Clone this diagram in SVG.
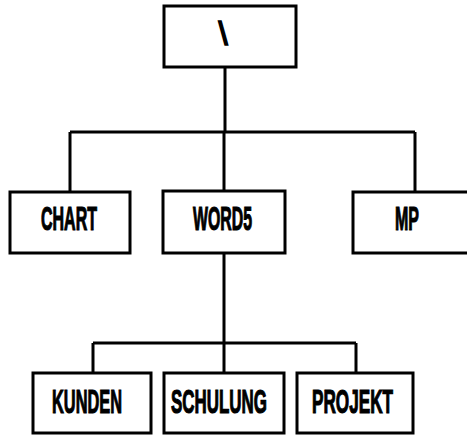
<svg xmlns="http://www.w3.org/2000/svg" width="467" height="435" viewBox="0 0 467 435">
<style>
.box{fill:#fff;stroke:#000;stroke-width:3}
.lbl{font-family:"Liberation Sans",Arial,sans-serif;font-weight:bold;font-size:33px;fill:#000;stroke:#000;stroke-width:1.2;text-anchor:middle}
.con{fill:none;stroke:#000;stroke-width:3}
</style>
<rect width="467" height="435" fill="#fff"/>
<g id="connectors">
<path class="con" d="M225,67 V132 M70,132 H415 M70,132 V192 M224,132 V191 M415,132 V192"/>
<path class="con" d="M224,253 V343 M93,343 H356 M93,343 V373 M224,343 V373 M356,343 V373"/>
</g>
<g id="root"><rect class="box" x="164" y="6" width="132" height="61"/><text class="lbl" style="font-weight:normal;stroke-width:1.5" x="223" y="45">\</text></g>
<g id="chart"><rect class="box" x="10" y="192" width="120" height="61"/><text class="lbl" transform="translate(69,230) scale(0.485,1)">CHART</text></g>
<g id="words5"><rect class="box" x="163" y="191" width="122" height="62"/><text class="lbl" transform="translate(222.5,230) scale(0.48,1)">WORD5</text></g>
<g id="mp"><rect class="box" x="353" y="192" width="120" height="61"/><text class="lbl" transform="translate(407,230) scale(0.485,1)">MP</text></g>
<g id="kunden"><rect class="box" x="33" y="373" width="118" height="60"/><text class="lbl" transform="translate(87,413) scale(0.496,1)">KUNDEN</text></g>
<g id="schulung"><rect class="box" x="164" y="373" width="120" height="60"/><text class="lbl" transform="translate(219,413) scale(0.513,1)">SCHULUNG</text></g>
<g id="projekt"><rect class="box" x="297" y="373" width="116" height="60"/><text class="lbl" transform="translate(352.5,413) scale(0.52,1)">PROJEKT</text></g>
</svg>
